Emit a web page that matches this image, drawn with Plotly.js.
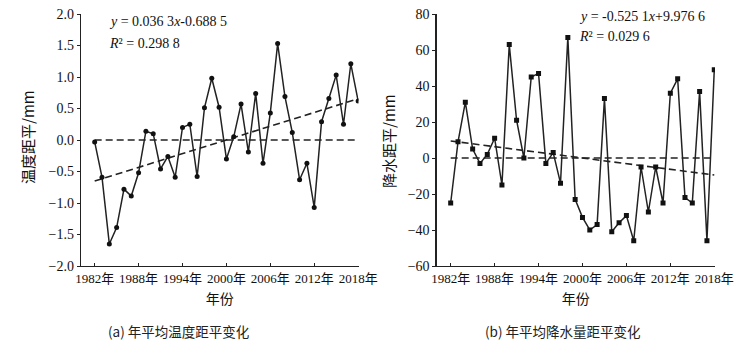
<!DOCTYPE html>
<html>
<head>
<meta charset="utf-8">
<script src="https://cdn.plot.ly/plotly-3.0.1.min.js"></script>
<style>html,body{margin:0;padding:0;background:#fff;}#chart{width:754px;height:353px;}</style>
</head>
<body>
<div id="chart"></div>
<script>
const years = [1982,1983,1984,1985,1986,1987,1988,1989,1990,1991,1992,1993,1994,1995,1996,1997,1998,1999,2000,2001,2002,2003,2004,2005,2006,2007,2008,2009,2010,2011,2012,2013,2014,2015,2016,2017,2018];
const tempAnomaly = [-0.03,-0.59,-1.65,-1.39,-0.78,-0.89,-0.52,0.14,0.10,-0.46,-0.26,-0.59,0.20,0.25,-0.58,0.51,0.98,0.52,-0.30,0.05,0.57,-0.19,0.74,-0.37,0.43,1.53,0.69,0.12,-0.63,-0.37,-1.07,0.29,0.66,1.03,0.25,1.21,0.62];
const precipAnomaly = [-25,9,31,5,-3,2,11,-15,63,21,0,45,47,-3,3,-14,67,-23,-33,-40,-37,33,-41,-36,-32,-46,-5,-30,-5,-25,36,44,-22,-25,37,-46,49];
const tickYears = [1982,1988,1994,2000,2006,2012,2018];
const tickLabels = ["1982年","1988年","1994年","2000年","2006年","2012年","2018年"];
const tempTrend = {slope: 0.0363, intercept: -0.6885};
const precipTrend = {slope: -0.5251, intercept: 9.9766};

const n = years.length;
const ends = [years[0], years[n-1]];
const trendY = (t) => [t.slope*1 + t.intercept, t.slope*n + t.intercept];

const serif = "Liberation Serif, Noto Sans CJK SC, serif";
const cjk = "Noto Sans CJK SC, sans-serif";
const dashStyle = "7px,4px";

const traces = [
  {x: ends, y: [0,0], xaxis:'x', yaxis:'y', mode:'lines', line:{color:'#222', width:1.6, dash:dashStyle}, showlegend:false, hoverinfo:'skip'},
  {x: ends, y: trendY(tempTrend), xaxis:'x', yaxis:'y', mode:'lines', line:{color:'#222', width:1.6, dash:dashStyle}, showlegend:false},
  {x: years, y: tempAnomaly, xaxis:'x', yaxis:'y', mode:'lines+markers', line:{color:'#222', width:1.5}, marker:{symbol:'circle', size:5, color:'#111'}, showlegend:false},
  {x: ends, y: [0,0], xaxis:'x2', yaxis:'y2', mode:'lines', line:{color:'#222', width:1.6, dash:dashStyle}, showlegend:false, hoverinfo:'skip'},
  {x: ends, y: trendY(precipTrend), xaxis:'x2', yaxis:'y2', mode:'lines', line:{color:'#222', width:1.6, dash:dashStyle}, showlegend:false},
  {x: years, y: precipAnomaly, xaxis:'x2', yaxis:'y2', mode:'lines+markers', line:{color:'#222', width:1.5}, marker:{symbol:'square', size:5, color:'#111'}, showlegend:false}
];

const W = 754, H = 353;
const yDom = [1-266/H, 1-14/H];
const xCommon = {
  tickmode:'array', tickvals: tickYears, ticktext: tickLabels,
  ticks:'inside', ticklen:3, tickwidth:1, tickcolor:'#222',
  showline:true, linecolor:'#222', linewidth:1.3, showgrid:false, zeroline:false,
  tickfont:{family:serif, size:13, color:'#111'},
  title:{text:'年份', font:{family:cjk, size:14, color:'#111'}, standoff:9}
};
const yCommon = {
  ticks:'outside', ticklen:3, tickwidth:1, tickcolor:'#222',
  showline:true, linecolor:'#222', linewidth:1.3, showgrid:false, zeroline:false,
  tickfont:{family:serif, size:14, color:'#111'}, domain:yDom
};

const layout = {
  width: W, height: H,
  margin:{l:0,r:0,t:0,b:0},
  paper_bgcolor:'#fff', plot_bgcolor:'rgba(0,0,0,0)',
  xaxis: Object.assign({}, xCommon, {domain:[81/W, 358.5/W], range:[1980.13, 2018.05], anchor:'y'}),
  yaxis: Object.assign({}, yCommon, {range:[-2,2], dtick:0.5, tickformat:'.1f', anchor:'x'}),
  xaxis2: Object.assign({}, xCommon, {domain:[436.7/W, 715/W], range:[1980.09, 2018.1], anchor:'y2'}),
  yaxis2: Object.assign({}, yCommon, {range:[-60,80], dtick:20, anchor:'x2'}),
  annotations: [
    {xref:'paper', yref:'paper', x:27/W, y:1-137/H, xanchor:'center', yanchor:'middle', textangle:-90, showarrow:false,
     text:'温度距平/mm', font:{family:cjk, size:15, color:'#111'}},
    {xref:'paper', yref:'paper', x:388/W, y:1-141/H, xanchor:'center', yanchor:'middle', textangle:-90, showarrow:false,
     text:'降水距平/mm', font:{family:cjk, size:15, color:'#111'}},
    {xref:'paper', yref:'paper', x:107/W, y:1-22/H, xanchor:'left', yanchor:'middle', showarrow:false,
     text:'<i>y</i> = 0.036 3<i>x</i>-0.688 5', font:{family:serif, size:14, color:'#111'}},
    {xref:'paper', yref:'paper', x:107/W, y:1-43/H, xanchor:'left', yanchor:'middle', showarrow:false,
     text:'<i>R</i>² = 0.298 8', font:{family:serif, size:14, color:'#111'}},
    {xref:'paper', yref:'paper', x:577/W, y:1-17/H, xanchor:'left', yanchor:'middle', showarrow:false,
     text:'<i>y</i> = -0.525 1<i>x</i>+9.976 6', font:{family:serif, size:14, color:'#111'}},
    {xref:'paper', yref:'paper', x:577/W, y:1-37/H, xanchor:'left', yanchor:'middle', showarrow:false,
     text:'<i>R</i>² = 0.029 6', font:{family:serif, size:14, color:'#111'}},
    {xref:'paper', yref:'paper', x:178/W, y:1-331/H, xanchor:'center', yanchor:'middle', showarrow:false,
     text:'(a) 年平均温度距平变化', font:{family:cjk, size:13.5, color:'#222'}},
    {xref:'paper', yref:'paper', x:563/W, y:1-331/H, xanchor:'center', yanchor:'middle', showarrow:false,
     text:'(b) 年平均降水量距平变化', font:{family:cjk, size:13.5, color:'#222'}}
  ]
};

Plotly.newPlot('chart', traces, layout, {staticPlot:true, displayModeBar:false});
</script>
</body>
</html>
